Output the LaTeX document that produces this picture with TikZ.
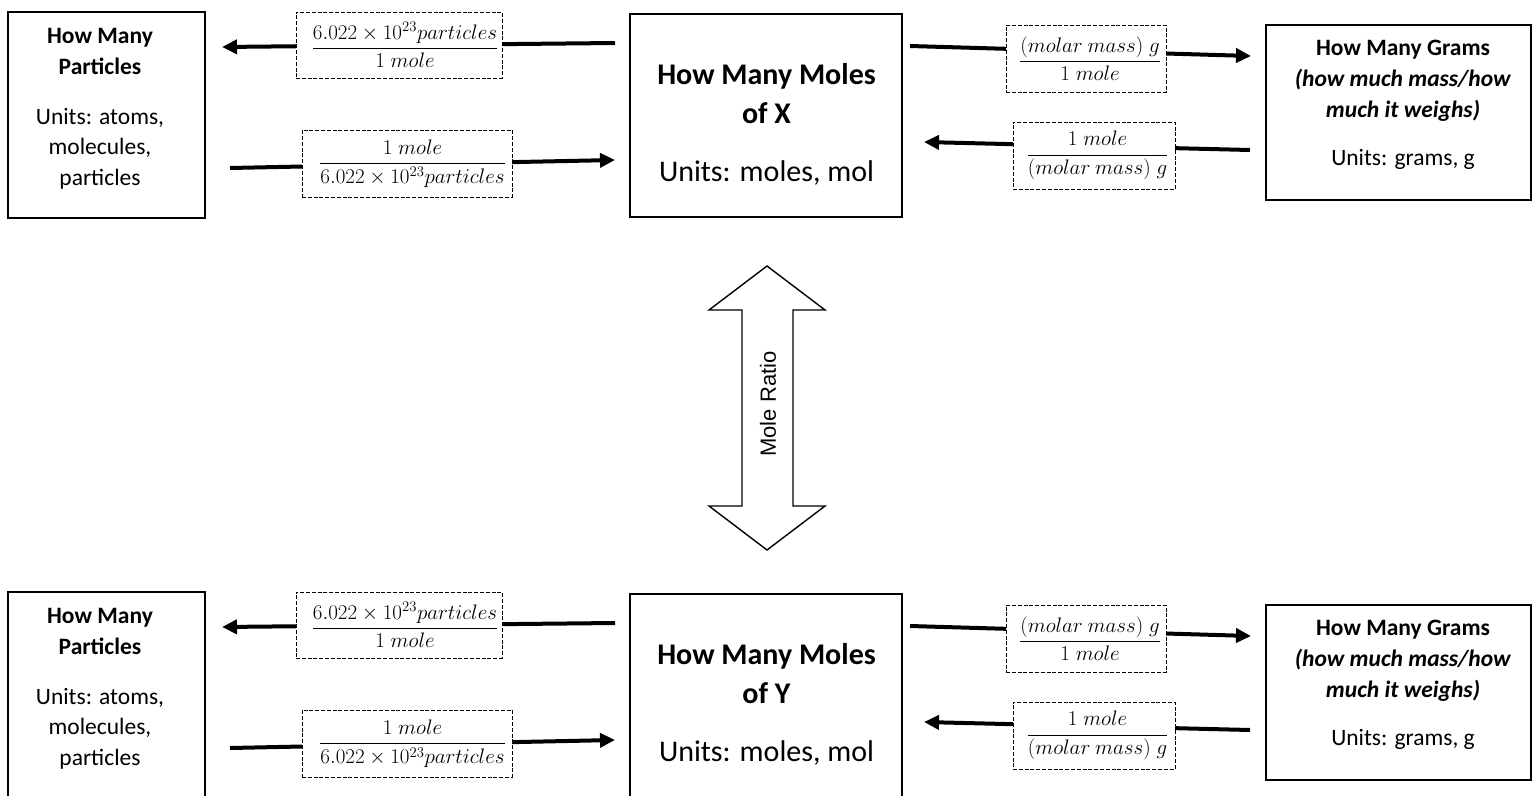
\RequirePackage{fix-cm}
\documentclass[tikz,border=0pt]{standalone}
\usepackage{fontspec}
\setmainfont{Carlito}
\newfontfamily\arialfont{Liberation Sans}
\usetikzlibrary{arrows.meta}

\tikzset{
  qbox/.style={draw, line width=1.2pt, inner sep=0pt},
  frbox/.style={draw, dash pattern=on 4pt off 1.8pt, line width=0.8pt, fill=white,
    inner sep=0pt, font=\fontsize{21}{25}\selectfont},
  conv/.style={line width=4pt, -{Triangle[length=15pt,width=14pt]}},
  smalltxt/.style={font=\fontsize{23.5}{30.8}\selectfont, align=center, inner sep=0pt, anchor=north},
  bigtxt/.style={font=\fontsize{30}{39}\selectfont, align=center, inner sep=0pt, anchor=north},
  ratioarrow/.style={draw, line width=1.4pt, line join=miter},
}

\newcommand\convfrac[2]{$\displaystyle\frac{#1}{#2}$}

% one row of the conversion map: #1 = vertical offset, #2 = substance
\newcommand\moleRow[2]{%
  \begin{scope}[yshift=-#1pt]
    % quantity boxes
    \node[qbox, minimum width=197pt, minimum height=206pt] (parts#2) at (106.5,115) {};
    \node[smalltxt] (partsT#2) at (100,28)
      {\textbf{How Many}\\\textbf{Particles}\\[19pt]Units: atoms,\\molecules,\\particles};
    \node[qbox, minimum width=272pt, minimum height=203pt] (moles#2) at (766,115.5) {};
    \node[bigtxt] (molesT#2) at (766.5,63)
      {\textbf{How Many Moles}\\\textbf{of #2}\\[19pt]Units: moles, mol};
    \node[qbox, minimum width=265pt, minimum height=175pt] (grams#2) at (1398.5,112.5) {};
    \node[smalltxt] (gramsT#2) at (1403,40)
      {\textbf{How Many Grams}\\\textbf{\textit{(how much mass/how}}\\\textbf{\textit{much it weighs)}}\\[17pt]Units: grams, g};
    % arrow ends
    \coordinate (a1s#2) at (615,43);
    \coordinate (a1e#2) at (222,47);
    \coordinate (a2s#2) at (230,168);
    \coordinate (a2e#2) at (615,160);
    \coordinate (a3s#2) at (910,46);
    \coordinate (a3e#2) at (1251,56);
    \coordinate (a4s#2) at (1250,150);
    \coordinate (a4e#2) at (924,142);
    \draw[conv] (a1s#2) -- (a1e#2);
    \draw[conv] (a2s#2) -- (a2e#2);
    \draw[conv] (a3s#2) -- (a3e#2);
    \draw[conv] (a4s#2) -- (a4e#2);
    % conversion factors
    \node[frbox, minimum width=206pt, minimum height=66pt] (f1#2) at (399,45)
      {\hspace*{12pt}\convfrac{6.022\times10^{23}particles}{1\;mole}};
    \node[frbox, minimum width=210pt, minimum height=67pt] (f2#2) at (407,163.5)
      {\hspace*{11pt}\convfrac{1\;mole}{6.022\times10^{23}particles}};
    \node[frbox, minimum width=160pt, minimum height=67pt] (f3#2) at (1086,58.5)
      {\hspace*{8pt}\convfrac{(molar\ mass)\;g}{1\;mole}};
    \node[frbox, minimum width=162pt, minimum height=67pt] (f4#2) at (1094,155.5)
      {\hspace*{7pt}\convfrac{1\;mole}{(molar\ mass)\;g}};
  \end{scope}}

\begin{document}
\begin{tikzpicture}[x=1pt, y=-1pt]
  \useasboundingbox (0,0) rectangle (1533,795);
  \clip (0,0) rectangle (1533,795);
  \fill[white] (0,0) rectangle (1533,795);

  \moleRow{0}{X}
  \moleRow{580}{Y}

  % mole ratio link between the two substances
  \draw[ratioarrow] (767,266) -- (825,310) -- (793,310) -- (793,506) -- (825,506)
    -- (767,550) -- (709,506) -- (742,506) -- (742,310) -- (709,310) -- cycle;
  \node[rotate=90, inner sep=0pt, font=\arialfont\fontsize{22}{26}\selectfont] (ratio) at (768,404) {Mole Ratio};
\end{tikzpicture}
\end{document}
